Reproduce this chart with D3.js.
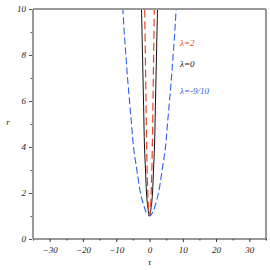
<!DOCTYPE html>
<html>
<head>
<meta charset="utf-8">
<script src="https://cdn.jsdelivr.net/npm/d3@7"></script>
<style>
  body { margin: 0; background: #fff; }
  text { font-family: "Liberation Serif", "DejaVu Serif", serif; font-style: italic; }
</style>
</head>
<body>
<div id="graph"></div>
<script>
const graphWidth = 270;
const graphHeight = 270;

const plotLeft = 33, plotRight = 266, plotTop = 9, plotBottom = 239;

const rRed = [1, 1.5, 2, 3, 4, 6, 8, 10, 10.5];
const tauRed = [0, 0.35, 0.5, 0.7, 0.85, 1.05, 1.25, 1.45, 1.5];

const rBlack = [1, 1.5, 2, 3, 4, 6, 8, 10, 10.5];
const tauBlack = [0, 0.6, 0.9, 1.2, 1.5, 1.8, 2.1, 2.4, 2.45];

const rBlue = [1, 1.2, 1.5, 2, 3, 4, 5, 6, 7, 8, 9, 10, 10.5];
const tauBlue = [0, 1.1, 1.8, 2.7, 3.8, 4.8, 5.4, 6.0, 6.6, 7.1, 7.6, 8.0, 8.2];

const xTicks = [-30, -20, -10, 0, 10, 20, 30];
const xMinor = [-35, -25, -15, -5, 5, 15, 25, 35];
const yTicks = [0, 2, 4, 6, 8, 10];
const yMinor = [1, 3, 5, 7, 9];

const labels = ['λ=2', 'λ=0', 'λ=-9/10'];
const labelColors = ['#e8452a', '#111', '#2f5fe8'];
const labelR = [8.4, 7.5, 6.3];

const x = d3.scaleLinear().domain([-35, 35]).range([plotLeft, plotRight]);
const y = d3.scaleLinear().domain([0, 10]).range([plotBottom, plotTop]);

const svg = d3.select('#graph').append('svg').attr('width', graphWidth).attr('height', graphHeight);

svg.append('clipPath').attr('id', 'clip')
  .append('rect').attr('x', plotLeft).attr('y', plotTop)
  .attr('width', plotRight - plotLeft).attr('height', plotBottom - plotTop);

// a curve is symmetric in tau: mirror the read values
function branch(rs, taus) {
  const l = rs.map((r, i) => [-taus[i], r]).reverse();
  const rr = rs.map((r, i) => [taus[i], r]);
  return l.concat(rr.slice(1));
}

const lineXY = d3.line().x(d => x(d[0])).y(d => y(d[1])).curve(d3.curveCatmullRom);

const plot = svg.append('g').attr('clip-path', 'url(#clip)');

plot.append('path')
  .attr('d', lineXY(branch(rBlue, tauBlue)))
  .attr('fill', 'none').attr('stroke', '#2f5fe8').attr('stroke-width', 1.1)
  .attr('stroke-dasharray', '7,3');

plot.append('path')
  .attr('d', lineXY(branch(rBlack, tauBlack)))
  .attr('fill', 'none').attr('stroke', '#111').attr('stroke-width', 1);

plot.append('path')
  .attr('d', lineXY(branch(rRed, tauRed)))
  .attr('fill', 'none').attr('stroke', '#e8452a').attr('stroke-width', 1.2)
  .attr('stroke-dasharray', '8,4');

// frame
svg.append('line').attr('x1', plotRight).attr('x2', plotRight).attr('y1', plotTop).attr('y2', plotBottom)
  .attr('stroke', '#333').attr('stroke-width', 1);
svg.append('line').attr('x1', plotLeft).attr('x2', plotRight).attr('y1', plotBottom).attr('y2', plotBottom)
  .attr('stroke', '#333').attr('stroke-width', 1);
svg.append('line').attr('x1', plotLeft).attr('x2', plotRight).attr('y1', plotTop).attr('y2', plotTop)
  .attr('stroke', '#999').attr('stroke-width', 2);
svg.append('line').attr('x1', plotLeft).attr('x2', plotLeft).attr('y1', plotTop).attr('y2', plotBottom)
  .attr('stroke', '#999').attr('stroke-width', 2);

// x axis
const xAxis = svg.append('g').attr('transform', 'translate(0,' + plotBottom + ')')
  .call(d3.axisBottom(x).tickValues(xTicks).tickSize(3).tickFormat(d => d3.format('d')(d).replace('-', '−')));
xAxis.select('.domain').remove();
xAxis.selectAll('line').attr('stroke', '#333');
xAxis.selectAll('text').attr('font-size', 9).attr('fill', '#222').attr('dy', '0.85em');
svg.append('g').attr('transform', 'translate(0,' + plotBottom + ')')
  .call(d3.axisBottom(x).tickValues(xMinor).tickSize(1.5).tickFormat(''))
  .call(g => g.select('.domain').remove())
  .selectAll('line').attr('stroke', '#333');

// y axis
const yAxis = svg.append('g').attr('transform', 'translate(' + (plotLeft - 1) + ',0)')
  .call(d3.axisLeft(y).tickValues(yTicks).tickSize(3).tickFormat(d3.format('d')));
yAxis.select('.domain').remove();
yAxis.selectAll('line').attr('stroke', '#555');
yAxis.selectAll('text').attr('font-size', 9).attr('fill', '#222');
svg.append('g').attr('transform', 'translate(' + (plotLeft - 1) + ',0)')
  .call(d3.axisLeft(y).tickValues(yMinor).tickSize(1.5).tickFormat(''))
  .call(g => g.select('.domain').remove())
  .selectAll('line').attr('stroke', '#555');

// axis titles
svg.append('text').attr('x', 8).attr('y', y(4.95)).attr('font-size', 9)
  .attr('text-anchor', 'middle').attr('fill', '#222').text('r');
svg.append('text').attr('x', x(0)).attr('y', 265).attr('font-size', 9)
  .attr('text-anchor', 'middle').attr('fill', '#222').text('τ');

// curve labels
svg.selectAll('.lab').data(labels).enter().append('text')
  .attr('class', 'lab')
  .attr('x', x(9.2))
  .attr('y', (d, i) => y(labelR[i]))
  .attr('font-size', 9)
  .attr('fill', (d, i) => labelColors[i])
  .text(d => d);
</script>
</body>
</html>
